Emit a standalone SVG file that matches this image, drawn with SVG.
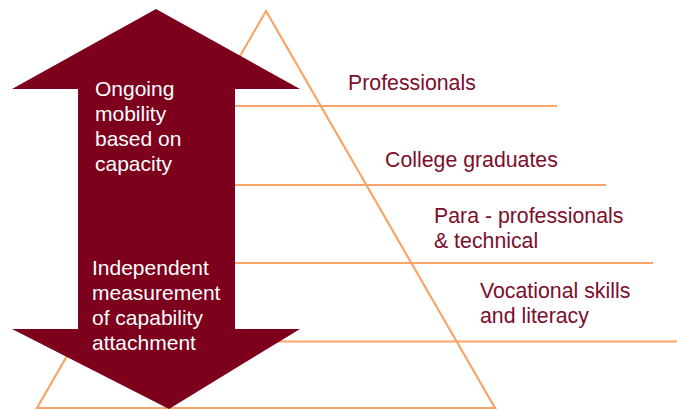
<svg xmlns="http://www.w3.org/2000/svg" width="677" height="410" viewBox="0 0 677 410">
<style>
.ln{stroke:#F8A56B;stroke-width:2.2;fill:none}
.at{font-family:"Liberation Sans",Arial,sans-serif;font-size:21px;fill:#FFFFFF}
.lt{font-family:"Liberation Sans",Arial,sans-serif;font-size:21.3px;fill:#7D0E2B}
</style>
<rect width="677" height="410" fill="#FFFFFF"/>
<g id="connectors">
<polygon class="ln" points="266,11 37,408 495,408"/>
<line class="ln" x1="220" y1="106" x2="557" y2="106"/>
<line class="ln" x1="220" y1="185" x2="606" y2="185"/>
<line class="ln" x1="220" y1="263" x2="653" y2="263"/>
<line class="ln" x1="220" y1="341.5" x2="677" y2="341.5"/>
</g>
<g id="arrow">
<polygon fill="#7D001C" points="156,9 300,89 235,89 235,329 300,329 169,409 12,329 78,329 78,89 12,89"/>
<text class="at" x="95" y="96">Ongoing</text>
<text class="at" x="95" y="121">mobility</text>
<text class="at" x="95" y="146">based on</text>
<text class="at" x="95" y="171">capacity</text>
<text class="at" x="92" y="275">Independent</text>
<text class="at" x="92" y="300">measurement</text>
<text class="at" x="92" y="325">of capability</text>
<text class="at" x="92" y="350">attachment</text>
</g>
<g id="professionals"><text class="lt" x="348" y="90">Professionals</text></g>
<g id="college"><text class="lt" x="385" y="167">College graduates</text></g>
<g id="para"><text class="lt" x="434" y="223">Para - professionals</text><text class="lt" x="434" y="248">&amp; technical</text></g>
<g id="vocational"><text class="lt" x="480" y="298">Vocational skills</text><text class="lt" x="480" y="323">and literacy</text></g>
</svg>
